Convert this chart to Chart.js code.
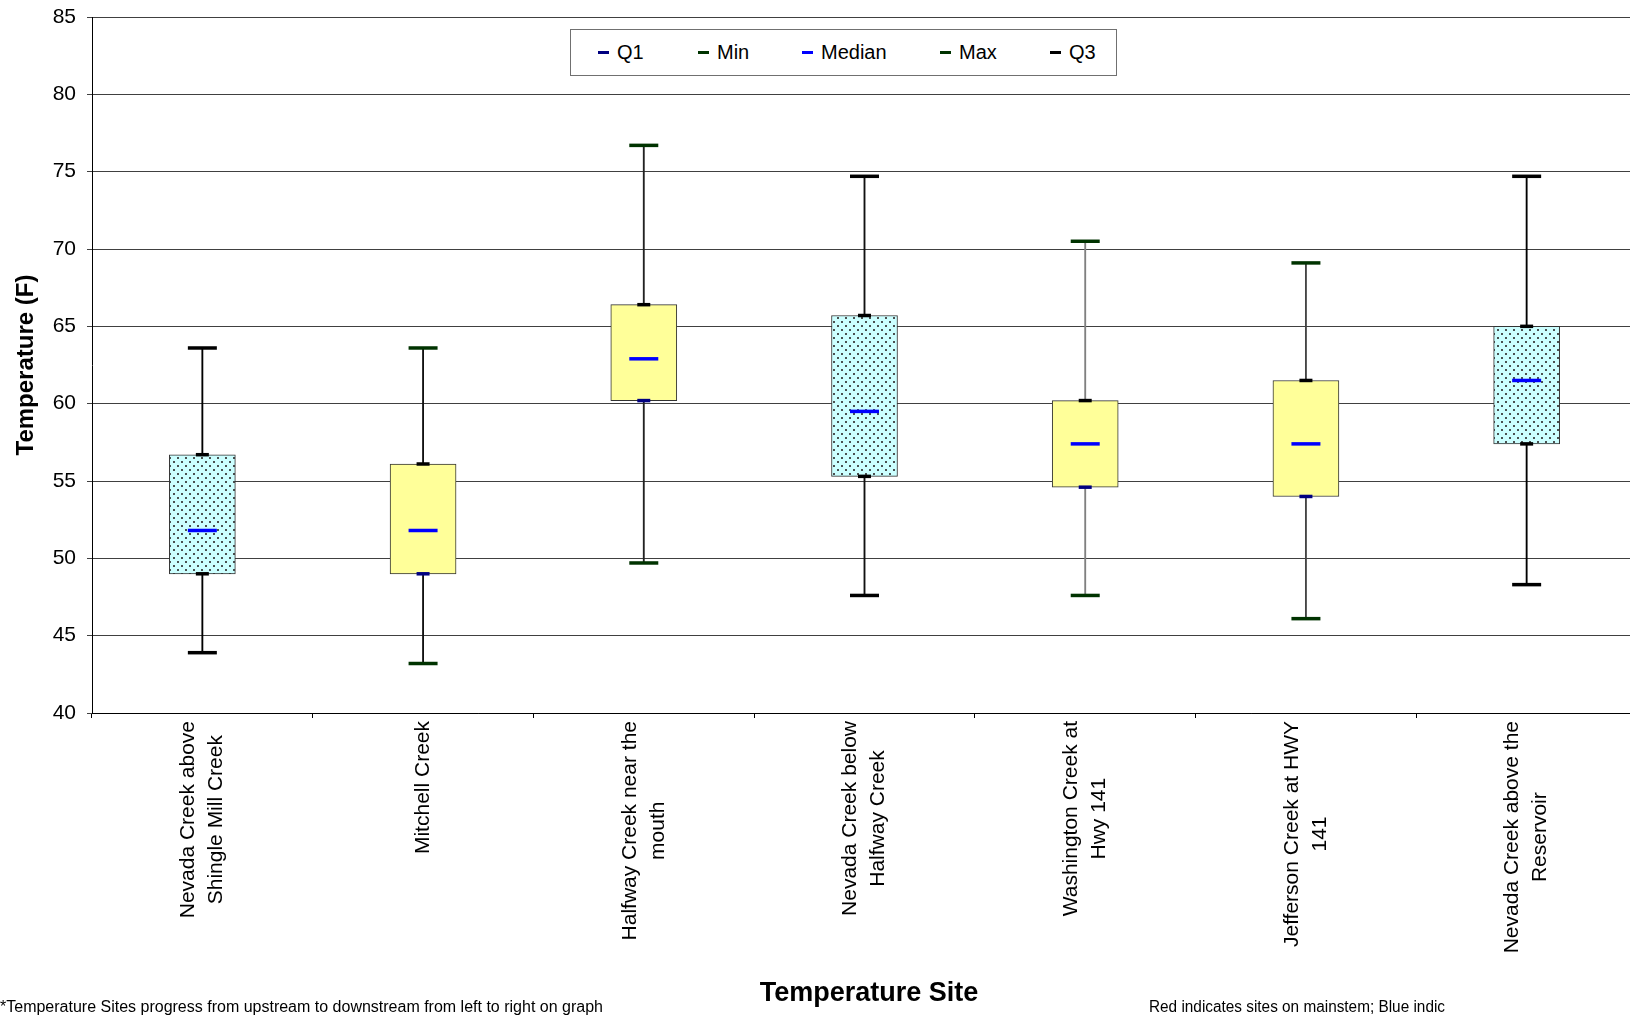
<!DOCTYPE html>
<html>
<head>
<meta charset="utf-8">
<title>Temperature by Site</title>
<script src="https://cdn.jsdelivr.net/npm/chart.js@4.4.1/dist/chart.umd.min.js"></script>
<style>
  html, body { margin: 0; padding: 0; background: #fff; overflow: hidden; }
  #wrap { position: relative; width: 1630px; height: 1018px; overflow: hidden; }
  #chart { position: absolute; left: 0; top: 0; }
  #legend {
    position: absolute; left: 570px; top: 29px; width: 547px; height: 47px;
    box-sizing: border-box; border: 1px solid #707070; background: #fff;
    font: 20px 'Liberation Sans', Arial, sans-serif; color: #000;
  }
  #legend .item { position: absolute; top: 0; height: 45px; display: flex; align-items: center; }
  #legend .mark { width: 11px; height: 3px; margin-right: 8px; }
</style>
</head>
<body>
<div id="wrap">
  <canvas id="chart" width="1640" height="1018"></canvas>
  <div id="legend"></div>
</div>
<script>
const FONT = "'Liberation Sans', Arial, sans-serif";

// sites, upstream to downstream
const sites = [
  ['Nevada Creek above', 'Shingle Mill Creek'],
  ['Mitchell Creek'],
  ['Halfway Creek near the', 'mouth'],
  ['Nevada Creek below', 'Halfway Creek'],
  ['Washington Creek at', 'Hwy 141'],
  ['Jefferson Creek at HWY', '141'],
  ['Nevada Creek above the', 'Reservoir']
];
const mainstem = [true, false, false, true, false, false, true];

const minT    = [43.9, 43.2, 49.7, 47.6, 47.6, 46.1, 48.3];
const q1T     = [49.0, 49.0, 60.2, 55.3, 54.6, 54.0, 57.4];
const medianT = [51.8, 51.8, 62.9, 59.5, 57.4, 57.4, 61.5];
const q3T     = [56.7, 56.1, 66.4, 65.7, 60.2, 61.5, 65.0];
const maxT    = [63.6, 63.6, 76.7, 74.7, 70.5, 69.1, 74.7];

const legendNames = ['Q1', 'Min', 'Median', 'Max', 'Q3'];
const legendX = [27, 127, 231, 369, 479];

const colors = {
  q1: '#000080',
  minmax: '#003300',
  median: '#0000ff',
  q3: '#000000',
  yellow: '#ffff99',
  grid: '#404040'
};
const whiskerColor = ['#000', '#111', '#222', '#111', '#808080', '#444', '#000'];

Chart.defaults.font.family = FONT;
Chart.defaults.color = '#000';

// dotted light cyan fill used for mainstem sites
function dotPattern() {
  const c = document.createElement('canvas');
  c.width = 8; c.height = 8;
  const g = c.getContext('2d');
  g.fillStyle = '#ccffff';
  g.fillRect(0, 0, 8, 8);
  g.fillStyle = '#4a5050';
  g.fillRect(1, 1, 2, 2);
  g.fillRect(5, 5, 2, 2);
  return g.createPattern(c, 'repeat');
}
const dots = dotPattern();

function capSet(label, data, mainColor, tribColor, radius, order) {
  return {
    type: 'line',
    label: label,
    data: data,
    showLine: false,
    pointStyle: 'line',
    pointRadius: radius,
    pointHoverRadius: radius,
    pointBorderWidth: 3.5,
    pointHoverBorderWidth: 3.5,
    pointBorderColor: mainstem.map(m => m ? mainColor : tribColor),
    order: order
  };
}

// rotated, centre-aligned site names plus titles and footnotes
const textPlugin = {
  id: 'siteText',
  afterDraw(chart) {
    const ctx = chart.ctx;
    const xs = chart.scales.x;
    ctx.save();
    ctx.fillStyle = '#000';
    ctx.font = '21px ' + FONT;
    ctx.textAlign = 'center';
    ctx.textBaseline = 'middle';
    sites.forEach((lines, i) => {
      const cx = xs.getPixelForValue(i);
      const block = Math.max(...lines.map(l => ctx.measureText(l).width));
      lines.forEach((line, j) => {
        ctx.save();
        ctx.translate(cx + (j - (lines.length - 1) / 2) * 28, 721 + block / 2);
        ctx.rotate(-Math.PI / 2);
        ctx.fillText(line, 0, 0);
        ctx.restore();
      });
    });

    ctx.font = 'bold 27px ' + FONT;
    ctx.fillText('Temperature Site', 869, 994);

    ctx.font = '16px ' + FONT;
    ctx.textAlign = 'left';
    ctx.fillText('*Temperature Sites progress from upstream to downstream from left to right on graph', 0, 1008, 604);
    ctx.fillText('Red indicates sites on mainstem; Blue indic', 1149, 1008, 296);
    ctx.restore();
  }
};

new Chart(document.getElementById('chart'), {
  type: 'bar',
  data: {
    labels: sites.map(s => s.join(' ')),
    datasets: [
      capSet('Median', medianT, colors.median, colors.median, 14.5, 0),
      capSet('Q1', q1T, '#000', colors.q1, 6.5, 1),
      capSet('Q3', q3T, '#000', colors.q3, 6.5, 1),
      capSet('Min', minT, '#000', colors.minmax, 14.5, 1),
      capSet('Max', maxT, '#000', colors.minmax, 14.5, 1),
      {
        label: 'Box',
        data: q1T.map((v, i) => [v, q3T[i]]),
        backgroundColor: mainstem.map(m => m ? dots : colors.yellow),
        borderColor: '#333',
        borderWidth: 1,
        borderSkipped: false,
        barThickness: 66,
        grouped: false,
        order: 3
      },
      {
        label: 'Range',
        data: minT.map((v, i) => [v, maxT[i]]),
        backgroundColor: whiskerColor,
        borderWidth: 0,
        barThickness: 1.2,
        grouped: false,
        order: 4
      }
    ]
  },
  options: {
    responsive: false,
    animation: false,
    devicePixelRatio: 1,
    layout: { autoPadding: false, padding: { top: 17, right: 3, left: 0, bottom: 0 } },
    plugins: {
      legend: { display: false },
      tooltip: { enabled: false }
    },
    scales: {
      x: {
        offset: true,
        ticks: { display: false },
        grid: { drawOnChartArea: false, tickLength: 5, color: '#000', offset: true },
        border: { color: '#000' },
        afterFit(s) { s.height = 305; s.paddingLeft = 0; s.paddingRight = 0; }
      },
      y: {
        min: 40,
        max: 85,
        ticks: { stepSize: 5, color: '#000', font: { size: 21 }, padding: 11 },
        grid: { color: colors.grid, tickLength: 5 },
        border: { color: '#000' },
        title: {
          display: true,
          text: 'Temperature (F)',
          color: '#000',
          font: { size: 24, weight: 'bold' },
          padding: { top: 12, bottom: 0 }
        },
        afterFit(s) { s.width = 92; s.paddingTop = 0; s.paddingBottom = 0; }
      }
    }
  },
  plugins: [textPlugin]
});

// legend in the order of the original
const legendColors = [colors.q1, colors.minmax, colors.median, colors.minmax, colors.q3];
const legendEl = document.getElementById('legend');
legendNames.forEach((name, i) => {
  const item = document.createElement('div');
  item.className = 'item';
  item.style.left = legendX[i] + 'px';
  const mark = document.createElement('span');
  mark.className = 'mark';
  mark.style.background = legendColors[i];
  const txt = document.createElement('span');
  txt.textContent = name;
  item.appendChild(mark);
  item.appendChild(txt);
  legendEl.appendChild(item);
});
</script>
</body>
</html>
